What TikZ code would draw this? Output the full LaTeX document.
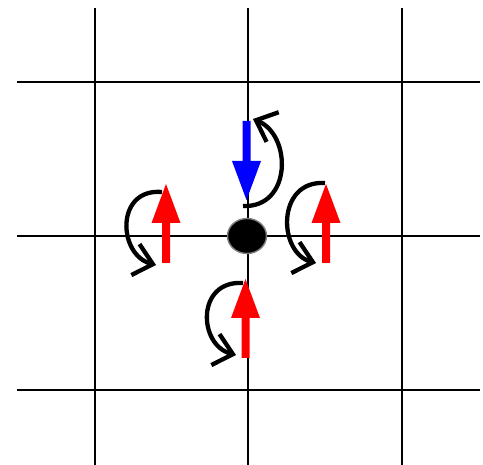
\documentclass[tikz,border=0pt]{standalone}
\usetikzlibrary{arrows.meta,shapes.geometric}
\begin{document}
\begin{tikzpicture}[x=1pt,y=-1pt,
  gridline/.style={line width=2.6pt,line cap=butt},
  midline/.style={line width=1.9pt},
  rot/.style={line width=4.3pt,-{Straight Barb[length=18pt,width=32pt,line width=4.3pt]}},
  spin/.pic={
    \fill[#1] (-4,0) -- (-4,-40) -- (-14.5,-40) -- (0,-79) -- (14.5,-40) -- (4,-40) -- (4,0) -- cycle;
  }]
\useasboundingbox (0,0) rectangle (483,465);
% grid
\coordinate (v1t) at (95,8);   \coordinate (v1b) at (95,465);
\coordinate (v2t) at (248,8);  \coordinate (v2b) at (248,465);
\coordinate (v3t) at (402,8);  \coordinate (v3b) at (402,465);
\coordinate (h1l) at (17,82);  \coordinate (h1r) at (480,82);
\coordinate (h2l) at (17,236); \coordinate (h2r) at (480,236);
\coordinate (h3l) at (17,390); \coordinate (h3r) at (480,390);
\draw[gridline] (v1t) -- (v1b);
\draw[gridline] (v3t) -- (v3b);
\draw[gridline] (h1l) -- (h1r);
\draw[gridline] (h3l) -- (h3r);
\draw[midline] (v2t) -- (v2b);
\draw[midline] (h2l) -- (h2r);
% central atom
\node[ellipse,fill=black,draw=gray,line width=1.4pt,minimum width=39pt,minimum height=35pt,inner sep=0pt] (dot) at (247,236) {};
% spins
\pic at (166,263) {spin=red};
\pic at (326,263) {spin=red};
\pic at (245.5,358) {spin=red};
\pic[rotate=180] at (246.5,121) {spin=blue};
% rotation arrows
\coordinate (ls) at (162,192); \coordinate (le) at (156,265);
\coordinate (rs) at (325,183); \coordinate (re) at (316,263);
\coordinate (bs) at (243,283); \coordinate (be) at (236,355);
\coordinate (ts) at (243,206); \coordinate (te) at (253,119);
\draw[rot] (ls) .. controls (115,188) and (118,255) .. (le);
\draw[rot] (rs) .. controls (276,180) and (278,253) .. (re);
\draw[rot] (bs) .. controls (196,280) and (198,345) .. (be);
\draw[rot] (ts) .. controls (292,208) and (292,135) .. (te);
\end{tikzpicture}
\end{document}
